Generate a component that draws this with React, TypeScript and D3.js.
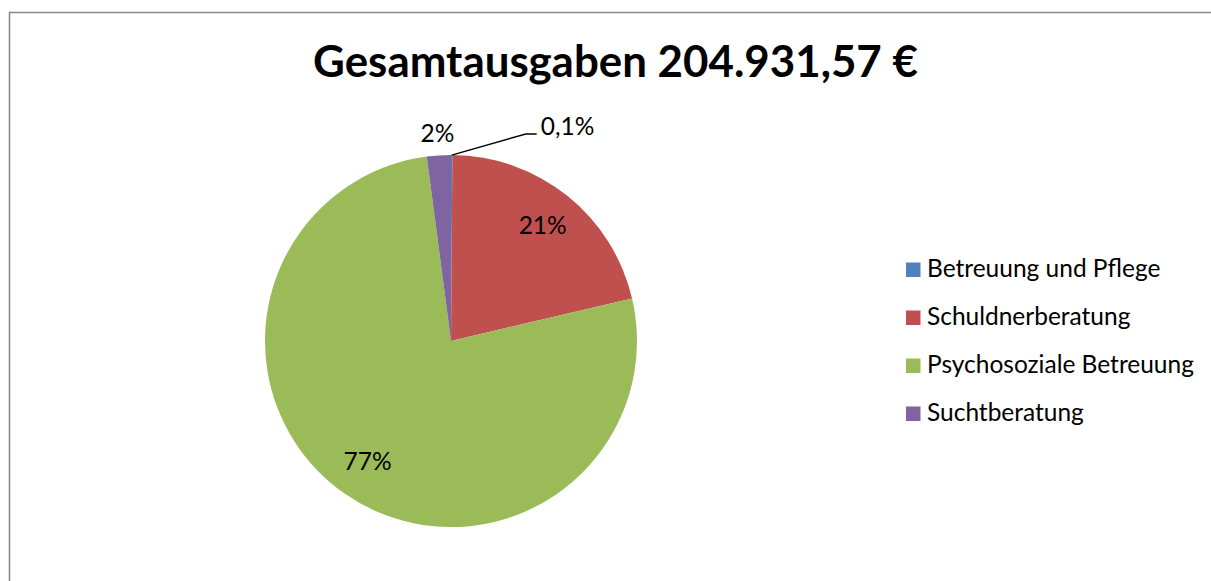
import React, { useLayoutEffect, useRef, useState } from "react";
import * as d3 from "d3";

const categories = ["Betreuung und Pflege", "Schuldnerberatung", "Psychosoziale Betreuung", "Suchtberatung"];
const values = [0.12, 21.2, 76.6, 2.08];
const labels = ["0,1%", "21%", "77%", "2%"];
const colors = ["#4F81BD", "#C0504D", "#9BBB59", "#8064A2"];
const title = "Gesamtausgaben 204.931,57 €";

const W = 1211;
const H = 581;
const FONT = "Lato, 'Open Sans', sans-serif";

export default function App() {
  const titleRef = useRef<SVGTextElement>(null);
  const legRef = useRef<SVGTextElement>(null);
  const [titleSize, setTitleSize] = useState(42);
  const [bodySize, setBodySize] = useState(24);

  useLayoutEffect(() => {
    if (titleRef.current) {
      const w = titleRef.current.getComputedTextLength();
      const target = 605;
      if (w > 0 && Math.abs(w - target) > 2) setTitleSize((s) => (s * target) / w);
    }
    if (legRef.current) {
      const w = legRef.current.getComputedTextLength();
      const target = 267;
      if (w > 0 && Math.abs(w - target) > 2) setBodySize((s) => (s * target) / w);
    }
  }, [titleSize, bodySize]);

  const cx = 451;
  const cy = 341;
  const R = 186;
  const pie = d3.pie<number>().sort(null).value((d) => d);
  const arcs = pie(values);
  const arc = d3.arc<d3.PieArcDatum<number>>().innerRadius(0).outerRadius(R);

  const legendX = 906;
  const legendY0 = 277;
  const legendStep = 48;
  const sq = 14.5;

  return (
    <svg width={W} height={H} style={{ display: "block", position: "absolute", left: 0, top: 0 }}>
      <rect x={0} y={0} width={W} height={H} fill="#fff" />
      <rect x={9.5} y={12.5} width={1240} height={620} fill="#fff" stroke="#868686" strokeWidth={1.5} />
      <text
        ref={titleRef}
        x={615.5}
        y={77}
        textAnchor="middle"
        fontFamily={FONT}
        fontWeight="bold"
        fontSize={titleSize}
        fill="#000"
      >
        {title}
      </text>
      <g transform={`translate(${cx},${cy})`}>
        {arcs.map((a, i) => (
          <path key={i} d={arc(a) || ""} fill={colors[i]} />
        ))}
        {arcs.map((a, i) => {
          const mid = (a.startAngle + a.endAngle) / 2;
          const pct = values[i];
          if (pct >= 5) {
            const r = R * 0.79;
            const x = Math.sin(mid) * r;
            const y = -Math.cos(mid) * r;
            return (
              <text key={"l" + i} x={x} y={y + bodySize * 0.33} textAnchor="middle" fontFamily={FONT} fontSize={bodySize} fill="#000">
                {labels[i]}
              </text>
            );
          }
          if (pct >= 1) {
            const r = R + 22;
            const x = Math.sin(mid) * r;
            const y = -Math.cos(mid) * r;
            return (
              <text key={"l" + i} x={x} y={y + bodySize * 0.33} textAnchor="middle" fontFamily={FONT} fontSize={bodySize} fill="#000">
                {labels[i]}
              </text>
            );
          }
          const sx = Math.sin(mid) * R;
          const sy = -Math.cos(mid) * R;
          const ex = sx + 74;
          const ey = sy - 21;
          const hx = ex + 11;
          return (
            <g key={"l" + i}>
              <polyline points={`${sx},${sy} ${ex},${ey} ${hx},${ey}`} fill="none" stroke="#000" strokeWidth={1.3} />
              <text x={hx + 4} y={ey + 1} fontFamily={FONT} fontSize={bodySize} fill="#000">
                {labels[i]}
              </text>
            </g>
          );
        })}
      </g>
      <g>
        {categories.map((c, i) => (
          <g key={c} transform={`translate(${legendX},${legendY0 + i * legendStep})`}>
            <rect x={0} y={-sq} width={sq} height={sq} fill={colors[i]} />
            <text
              ref={i === 2 ? legRef : undefined}
              x={21}
              y={0}
              fontFamily={FONT}
              fontSize={bodySize}
              fill="#000"
            >
              {c}
            </text>
          </g>
        ))}
      </g>
    </svg>
  );
}
